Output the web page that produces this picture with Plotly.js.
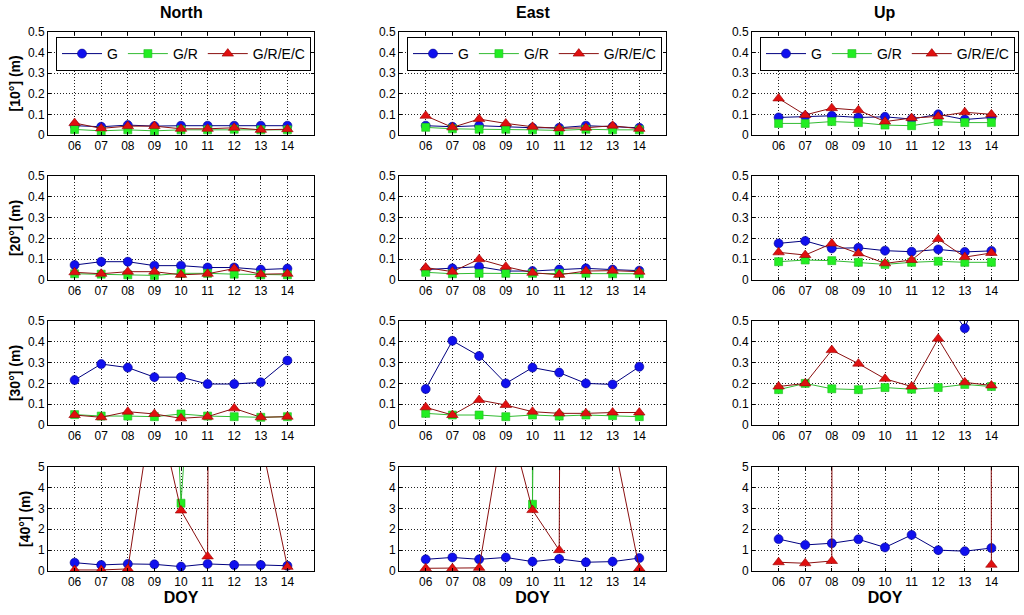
<!DOCTYPE html>
<html><head><meta charset="utf-8">
<script src="https://cdn.plot.ly/plotly-3.0.1.min.js"></script>
<style>html,body{margin:0;padding:0;background:#fff}#chart{width:1024px;height:615px}</style>
</head><body><div id="chart"></div>
<script>
// ---------------- data ----------------
const days = [6, 7, 8, 9, 10, 11, 12, 13, 14];
const dayLabels = ['06', '07', '08', '09', '10', '11', '12', '13', '14'];
const columnTitles = ['North', 'East', 'Up'];
const rowLabels = ['[10°] (m)', '[20°] (m)', '[30°] (m)', '[40°] (m)'];
const seriesNames = ['G', 'G/R', 'G/R/E/C'];

// 10 deg cut-off
const north10_G    = [0.045, 0.040, 0.048, 0.043, 0.045, 0.045, 0.045, 0.045, 0.045];
const north10_GR   = [0.027, 0.020, 0.025, 0.020, 0.025, 0.025, 0.028, 0.025, 0.025];
const north10_GREC = [0.058, 0.032, 0.043, 0.043, 0.030, 0.030, 0.035, 0.025, 0.028];
const east10_G     = [0.045, 0.040, 0.045, 0.040, 0.035, 0.035, 0.045, 0.040, 0.035];
const east10_GR    = [0.037, 0.030, 0.028, 0.028, 0.025, 0.022, 0.028, 0.025, 0.025];
const east10_GREC  = [0.093, 0.037, 0.077, 0.056, 0.040, 0.032, 0.035, 0.045, 0.030];
const up10_G       = [0.085, 0.090, 0.093, 0.085, 0.088, 0.077, 0.100, 0.075, 0.085];
const up10_GR      = [0.056, 0.056, 0.065, 0.060, 0.048, 0.045, 0.065, 0.060, 0.060];
const up10_GREC    = [0.177, 0.097, 0.130, 0.120, 0.065, 0.082, 0.090, 0.110, 0.100];

// 20 deg cut-off
const north20_G    = [0.072, 0.088, 0.088, 0.069, 0.069, 0.060, 0.060, 0.050, 0.055];
const north20_GR   = [0.030, 0.028, 0.025, 0.022, 0.032, 0.032, 0.028, 0.025, 0.025];
const north20_GREC = [0.037, 0.030, 0.040, 0.040, 0.025, 0.030, 0.055, 0.028, 0.030];
const east20_G     = [0.050, 0.056, 0.064, 0.043, 0.043, 0.050, 0.056, 0.050, 0.045];
const east20_GR    = [0.037, 0.030, 0.032, 0.032, 0.032, 0.032, 0.032, 0.030, 0.030];
const east20_GREC  = [0.060, 0.040, 0.100, 0.064, 0.035, 0.025, 0.043, 0.045, 0.040];
const up20_G       = [0.176, 0.188, 0.152, 0.155, 0.141, 0.136, 0.147, 0.135, 0.140];
const up20_GR      = [0.088, 0.096, 0.093, 0.085, 0.075, 0.085, 0.090, 0.085, 0.085];
const up20_GREC    = [0.133, 0.120, 0.175, 0.128, 0.080, 0.096, 0.197, 0.110, 0.130];

// 30 deg cut-off
const north30_G    = [0.216, 0.293, 0.276, 0.230, 0.230, 0.197, 0.197, 0.205, 0.310];
const north30_GR   = [0.050, 0.043, 0.043, 0.040, 0.053, 0.043, 0.040, 0.037, 0.040];
const north30_GREC = [0.048, 0.037, 0.064, 0.053, 0.032, 0.040, 0.080, 0.037, 0.040];
const east30_G     = [0.173, 0.405, 0.332, 0.200, 0.276, 0.252, 0.200, 0.195, 0.280];
const east30_GR    = [0.056, 0.048, 0.048, 0.040, 0.048, 0.043, 0.048, 0.045, 0.040];
const east30_GREC  = [0.085, 0.048, 0.120, 0.096, 0.064, 0.056, 0.056, 0.060, 0.060];
const up30_G       = [1.20, 1.00, 1.10, 1.30, 0.90, 1.40, 0.65, 0.465, 0.80];
const up30_GR      = [0.170, 0.200, 0.174, 0.170, 0.180, 0.172, 0.180, 0.195, 0.185];
const up30_GREC    = [0.185, 0.200, 0.360, 0.295, 0.222, 0.185, 0.415, 0.205, 0.190];

// 40 deg cut-off (several solutions diverge far above the axis)
const north40_G    = [0.40, 0.29, 0.34, 0.32, 0.21, 0.34, 0.29, 0.29, 0.25];
const north40_GR   = [null, null, null, 32, 3.25, 22, 50, 50, 50];
const north40_GREC = [0.05, 0.05, 0.10, 8.5, 2.90, 0.70, 300, 6.3, 0.20];
const east40_G     = [0.56, 0.65, 0.56, 0.65, 0.45, 0.58, 0.42, 0.45, 0.62];
const east40_GR    = [null, null, null, 500, 3.20, 500, 500, 500, 500];
const east40_GREC  = [0.13, 0.13, 0.15, 7.8, 2.92, 1.00, 300, 6.5, 0.12];
const up40_G       = [1.53, 1.25, 1.33, 1.52, 1.13, 1.73, 1.00, 0.95, 1.10];
const up40_GR      = [null, null, null, null, null, null, null, null, null];
const up40_GREC    = [0.42, 0.37, 0.48, 900, 900, 900, 900, 900, 0.30];

const panels = [
  [[north10_G, north10_GR, north10_GREC], [east10_G, east10_GR, east10_GREC], [up10_G, up10_GR, up10_GREC]],
  [[north20_G, north20_GR, north20_GREC], [east20_G, east20_GR, east20_GREC], [up20_G, up20_GR, up20_GREC]],
  [[north30_G, north30_GR, north30_GREC], [east30_G, east30_GR, east30_GREC], [up30_G, up30_GR, up30_GREC]],
  [[north40_G, north40_GR, north40_GREC], [east40_G, east40_GR, east40_GREC], [up40_G, up40_GR, up40_GREC]]
];
const rowRanges = [[0, 0.5], [0, 0.5], [0, 0.5], [0, 5]];
const rowDticks = [0.1, 0.1, 0.1, 1];

// ---------------- styling ----------------
const W = 1024, H = 615;
const colPx = [[48, 314], [399, 666], [752, 1018]];
const rowPx = [[31.7, 135], [176, 280], [321, 425], [466.7, 571]];
const FONT = 'Liberation Sans, Arial, Helvetica, sans-serif';
const styles = [
  {line: '#000080', marker: '#1010ee', edge: '#00008b', symbol: 'circle', size: 9},
  {line: '#33bb33', marker: '#22ee22', edge: '#22bb22', symbol: 'square', size: 8},
  {line: '#8b1010', marker: '#e01010', edge: '#9b0000', symbol: 'triangle-up', size: 10}
];
const legendNames = ['legend', 'legend2', 'legend3'];

const traces = [];
const layout = {
  width: W, height: H,
  margin: {l: 0, r: 0, t: 0, b: 0},
  paper_bgcolor: '#fff', plot_bgcolor: '#fff',
  font: {family: FONT, size: 12, color: '#000'},
  annotations: [],
  showlegend: true
};

for (let r = 0; r < 4; r++) {
  for (let c = 0; c < 3; c++) {
    const k = r * 3 + c + 1;
    const xs = k === 1 ? '' : String(k);
    for (let s = 0; s < 3; s++) {
      const st = styles[s];
      traces.push({
        type: 'scatter', mode: 'lines+markers',
        x: days, y: panels[r][c][s],
        name: seriesNames[s],
        xaxis: 'x' + xs, yaxis: 'y' + xs,
        line: {color: st.line, width: 1},
        marker: {symbol: st.symbol, size: st.size, color: st.marker, line: {color: st.edge, width: 0.6}},
        showlegend: r === 0,
        legend: legendNames[c],
        hoverinfo: 'skip'
      });
    }
    const axBase = {
      showline: true, linecolor: '#000', linewidth: 1, mirror: 'ticks',
      ticks: 'inside', ticklen: 3, tickwidth: 1, tickcolor: '#000',
      showgrid: true, gridcolor: '#222', gridwidth: 1, griddash: '1px,2px',
      zeroline: false, fixedrange: true,
      tickfont: {family: FONT, size: 12, color: '#000'}
    };
    layout['xaxis' + xs] = Object.assign({}, axBase, {
      domain: [colPx[c][0] / W, colPx[c][1] / W],
      anchor: 'y' + xs,
      range: [5, 15],
      tickmode: 'array', tickvals: days, ticktext: dayLabels,
      title: r === 3 ? {text: 'DOY', font: {family: FONT, size: 16, weight: 'bold', color: '#000'}, standoff: 2} : {text: ''}
    });
    layout['yaxis' + xs] = Object.assign({}, axBase, {
      domain: [1 - rowPx[r][1] / H, 1 - rowPx[r][0] / H],
      anchor: 'x' + xs,
      range: rowRanges[r],
      tick0: 0, dtick: rowDticks[r],
      title: c === 0 ? {text: rowLabels[r], font: {family: FONT, size: 14, weight: 'bold', color: '#000'}, standoff: 4} : {text: ''}
    });
  }
}

for (let c = 0; c < 3; c++) {
  layout[legendNames[c]] = {
    x: (colPx[c][0] + 8) / W, y: 1 - 37 / H,
    xanchor: 'left', yanchor: 'top',
    orientation: 'h',
    itemwidth: 40,
    bgcolor: '#fff', bordercolor: '#000', borderwidth: 1,
    font: {family: FONT, size: 14, color: '#000'},
    itemclick: false, itemdoubleclick: false
  };
  layout.annotations.push({
    xref: 'paper', yref: 'paper',
    x: (colPx[c][0] + colPx[c][1]) / 2 / W, y: 1 - 12 / H,
    xanchor: 'center', yanchor: 'middle',
    text: columnTitles[c], showarrow: false,
    font: {family: FONT, size: 16, weight: 'bold', color: '#000'}
  });
}

Plotly.newPlot('chart', traces, layout, {staticPlot: true, displayModeBar: false});
</script>
</body></html>
